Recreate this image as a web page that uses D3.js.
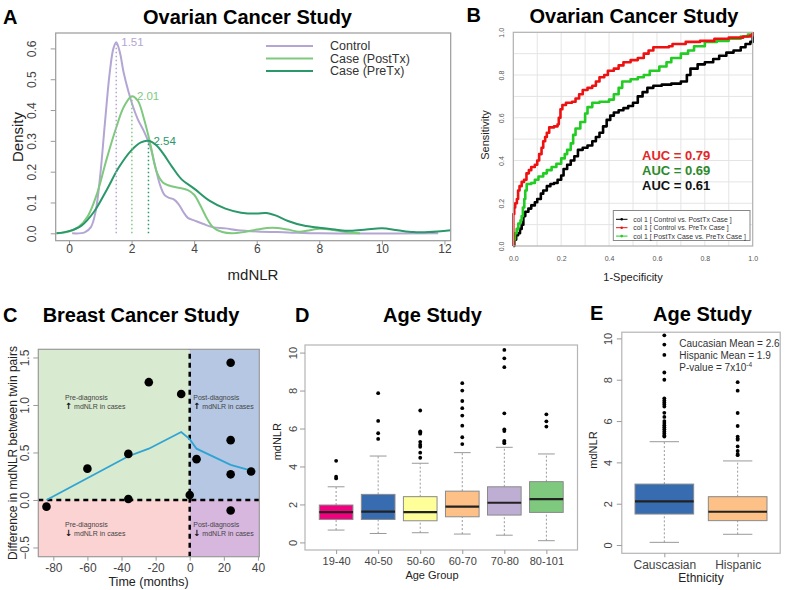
<!DOCTYPE html>
<html><head><meta charset="utf-8">
<script src="https://cdn.jsdelivr.net/npm/d3@7"></script>
<style>body{margin:0;background:#fff}svg{display:block}text{font-family:"Liberation Sans",Arial,Helvetica,sans-serif}</style>
</head><body>
<script>
// ---------------- DATA ----------------
// Panel A: density curves [mdNLR, density]
const densityControl = [[0.1,0.0],[0.5,0.003],[0.7,0.02],[0.85,0.07],[1.0,0.19],[1.15,0.36],[1.3,0.52],[1.42,0.60],[1.51,0.62],[1.62,0.59],[1.75,0.52],[1.9,0.46],[2.05,0.41],[2.2,0.37],[2.4,0.33],[2.6,0.28],[2.75,0.22],[2.9,0.16],[3.05,0.125],[3.2,0.115],[3.35,0.11],[3.5,0.095],[3.65,0.07],[3.8,0.05],[4.0,0.042],[4.3,0.03],[4.6,0.02],[5.0,0.016],[5.4,0.01],[6.0,0.006],[7.0,0.003],[8.0,0.0],[11.8,0.0]];
const densityPostTx = [[-0.4,0.0],[0.0,0.006],[0.3,0.02],[0.6,0.055],[0.9,0.13],[1.2,0.24],[1.5,0.34],[1.75,0.41],[2.01,0.445],[2.2,0.43],[2.4,0.37],[2.6,0.29],[2.8,0.2],[3.0,0.165],[3.2,0.155],[3.5,0.148],[3.8,0.14],[4.0,0.125],[4.2,0.09],[4.4,0.05],[4.6,0.02],[4.9,0.004],[5.2,0.0],[5.6,0.004],[6.0,0.012],[6.5,0.018],[7.0,0.012],[7.35,0.005],[7.7,0.01],[8.0,0.015],[8.5,0.01],[9.0,0.002],[9.3,0.0]];
const densityPreTx = [[-0.4,0.0],[0.0,0.007],[0.4,0.025],[0.8,0.07],[1.2,0.14],[1.6,0.215],[2.0,0.27],[2.3,0.295],[2.54,0.30],[2.8,0.285],[3.0,0.26],[3.3,0.215],[3.6,0.175],[4.0,0.145],[4.5,0.105],[5.0,0.08],[5.5,0.067],[6.0,0.064],[6.3,0.066],[6.6,0.058],[7.0,0.04],[7.5,0.025],[8.0,0.018],[8.5,0.012],[9.0,0.008],[9.5,0.012],[10.0,0.016],[10.5,0.01],[11.0,0.004],[11.5,0.004],[12.2,0.01]];
const densityNames = ["Control","Case (PostTx)","Case (PreTx)"];
const densityPeaks = [[1.51,0.62,"1.51"],[2.01,0.445,"2.01"],[2.54,0.30,"2.54"]];
const densityXTicks = [0,2,4,6,8,10,12];
const densityYTicks = [0,0.1,0.2,0.3,0.4,0.5,0.6];

// Panel B: ROC curves [1-specificity, sensitivity]
const rocControlPreTx = [[0,0],[0,0.15],[0.004,0.18],[0.008,0.2],[0.015,0.22],[0.02,0.26],[0.026,0.28],[0.035,0.3],[0.045,0.31],[0.055,0.34],[0.065,0.355],[0.075,0.37],[0.09,0.38],[0.1,0.40],[0.108,0.43],[0.118,0.46],[0.125,0.49],[0.133,0.51],[0.14,0.53],[0.15,0.555],[0.17,0.56],[0.185,0.57],[0.19,0.6],[0.197,0.64],[0.205,0.66],[0.22,0.67],[0.245,0.675],[0.26,0.69],[0.275,0.71],[0.29,0.73],[0.31,0.74],[0.33,0.75],[0.345,0.77],[0.36,0.79],[0.38,0.8],[0.395,0.82],[0.42,0.83],[0.44,0.845],[0.46,0.86],[0.49,0.87],[0.52,0.88],[0.545,0.9],[0.565,0.915],[0.585,0.93],[0.65,0.935],[0.665,0.945],[0.72,0.955],[0.78,0.96],[0.84,0.97],[0.9,0.975],[0.96,0.98],[0.99,0.985],[1,1]];
const rocPostPreTx = [[0,0],[0,0.03],[0.007,0.06],[0.014,0.08],[0.021,0.105],[0.03,0.12],[0.035,0.14],[0.04,0.18],[0.046,0.22],[0.05,0.26],[0.056,0.29],[0.075,0.295],[0.09,0.31],[0.105,0.325],[0.125,0.34],[0.14,0.355],[0.16,0.37],[0.18,0.385],[0.2,0.41],[0.215,0.43],[0.225,0.45],[0.24,0.48],[0.25,0.52],[0.26,0.55],[0.28,0.58],[0.3,0.62],[0.31,0.65],[0.33,0.67],[0.36,0.675],[0.4,0.685],[0.42,0.71],[0.44,0.74],[0.455,0.77],[0.49,0.78],[0.52,0.79],[0.545,0.8],[0.57,0.82],[0.61,0.84],[0.64,0.86],[0.66,0.88],[0.7,0.9],[0.73,0.915],[0.755,0.935],[0.8,0.955],[0.85,0.96],[0.9,0.97],[0.95,0.98],[0.98,0.99],[1,1]];
const rocControlPostTx = [[0,0],[0.004,0.03],[0.012,0.05],[0.02,0.06],[0.028,0.08],[0.035,0.1],[0.042,0.14],[0.05,0.16],[0.063,0.175],[0.075,0.19],[0.09,0.205],[0.1,0.22],[0.115,0.245],[0.125,0.26],[0.14,0.28],[0.155,0.29],[0.17,0.295],[0.185,0.31],[0.2,0.33],[0.21,0.36],[0.225,0.38],[0.24,0.4],[0.255,0.42],[0.27,0.45],[0.29,0.46],[0.31,0.47],[0.33,0.49],[0.345,0.51],[0.36,0.53],[0.375,0.56],[0.39,0.59],[0.405,0.61],[0.42,0.625],[0.44,0.635],[0.46,0.645],[0.48,0.655],[0.5,0.67],[0.52,0.7],[0.54,0.72],[0.56,0.74],[0.585,0.75],[0.62,0.755],[0.66,0.76],[0.7,0.77],[0.725,0.8],[0.74,0.83],[0.77,0.85],[0.8,0.86],[0.835,0.875],[0.86,0.89],[0.89,0.905],[0.92,0.915],[0.95,0.93],[0.97,0.945],[0.99,0.955],[1,0.97],[1,1]];
const rocLegend = ["col 1 [ Control vs. PostTx Case ]","col 1 [ Control vs. PreTx Case ]","col 1 [ PostTx Case vs. PreTx Case ]"];
const rocAUC = ["AUC = 0.79","AUC = 0.69","AUC = 0.61"];
const rocTicks = [0,0.2,0.4,0.6,0.8,1.0];

// Panel C: breast cancer twin differences
const twinTime = [-84,-60,-36,-36,-24,-5,0,4,24,24,24,24,36];
const twinDiff = [-0.07,0.33,0.485,0.01,1.24,1.115,0.053,0.43,1.445,0.63,0.27,-0.11,0.30];
const trendTime = [-84,-36,-24,-5,0,4,24,36];
const trendDiff = [0.0,0.46,0.54,0.715,0.64,0.54,0.37,0.31];
const twinXTicks = [-80,-60,-40,-20,0,20,40];
const twinYTicks = [-0.5,0,0.5,1.0,1.5];

// Panel D: age groups box stats
const ageGroups = ["19-40","40-50","50-60","60-70","70-80","80-101"];
const ageLow = [0.65,0.47,0.51,0.44,0.38,0.09];
const ageQ1 = [1.21,1.21,1.14,1.35,1.44,1.58];
const ageMedian = [1.6,1.62,1.6,1.88,2.09,2.28];
const ageQ3 = [1.97,2.53,2.41,2.7,2.93,3.2];
const ageHigh = [2.93,4.55,4.17,4.73,5.01,4.66];
const ageOutliers = [[3.37,3.46,4.3],[5.45,5.75,6.4,7.86],[4.46,4.73,5.04,5.15,5.3,5.73,5.8,5.85,6.95],[5.18,5.54,6.15,6.68,7.07,7.45,8.0,8.39],[5.23,5.3,5.35,5.87,5.96,6.8,9.23,9.7,10.14],[6.1,6.38,6.75]];
const ageYTicks = [0,2,4,6,8,10];

// Panel E: ethnicity box stats
const ethGroups = ["Causcasian","Hispanic"];
const ethLow = [0.13,0.52];
const ethQ1 = [1.5,1.18];
const ethMedian = [2.11,1.61];
const ethQ3 = [2.95,2.34];
const ethHigh = [5.0,4.07];
const ethOutliers = [[5.25,5.3,5.4,5.5,5.6,5.7,5.8,5.9,6.0,6.2,6.4,6.7,6.8,6.9,7.0,7.1,8.0,8.35,9.2,9.7,10.15],[4.35,4.4,4.55,4.77,5.1,5.15,5.25,5.76,6.39,7.47,7.88]];
const ethStats = ["Caucasian Mean = 2.6","Hispanic Mean = 1.9"];

// ---------------- STYLE ----------------
const densityColors = ["#b3a6d3","#7fc97f","#2a9868"];
const rocColors = ["#000000","#ee1111","#22cc22"];
const aucColors = ["#e32626","#2b8a2b","#111111"];
const accent = ["#f0027f","#386cb0","#ffff99","#fdc086","#beaed4","#7fc97f"];
const ethColors = ["#386cb0","#fdc086"];
const frameColor = "#9a9a9a";
const tickColor = "#444";

const svg = d3.select("body").append("svg").attr("width",800).attr("height",590);
svg.append("rect").attr("width",800).attr("height",590).attr("fill","#fff");

function txt(x,y,s,o){
  const t = svg.append("text").attr("x",x).attr("y",y).text(s)
    .attr("font-size",o.size||12).attr("fill",o.fill||"#000")
    .attr("text-anchor",o.anchor||"middle");
  if(o.bold) t.attr("font-weight","bold");
  if(o.rot) t.attr("transform",`rotate(-90,${x},${y})`).attr("dy","0.35em");
  return t;
}
function frame(x0,x1,y0,y1,c){
  svg.append("rect").attr("x",x0).attr("y",y0).attr("width",x1-x0).attr("height",y1-y0)
    .attr("fill","none").attr("stroke",c||frameColor).attr("stroke-width",1.2);
}
function bottomAxis(scale,vals,y,o){
  const ax = d3.axisBottom(scale).tickValues(vals).tickSize(o.tick).tickFormat(o.fmt||(d=>d));
  const g = svg.append("g").attr("transform",`translate(0,${y})`).call(ax);
  g.select(".domain").remove();
  g.selectAll("line").attr("stroke",o.tickStroke||frameColor);
  g.selectAll("text").attr("y",o.base).attr("dy",0).attr("font-size",o.size).attr("fill",o.fill||tickColor)
    .attr("font-family",'"Liberation Sans",Arial,sans-serif');
  return g;
}
function leftAxis(scale,vals,x,o){
  const ax = d3.axisLeft(scale).tickValues(vals).tickSize(o.tick).tickFormat(o.fmt||(d=>d));
  const g = svg.append("g").attr("transform",`translate(${x},0)`).call(ax);
  g.select(".domain").remove();
  g.selectAll("line").attr("stroke",o.tickStroke||frameColor);
  g.selectAll("text").attr("x",0).attr("y",-o.off).attr("dy","0.35em").attr("text-anchor","middle")
    .attr("transform","rotate(-90)").attr("font-size",o.size).attr("fill",o.fill||tickColor)
    .attr("font-family",'"Liberation Sans",Arial,sans-serif');
  return g;
}

// ---------------- PANEL A ----------------
{
  const x = d3.scaleLinear([-0.425,12.2],[55.7,450.7]);
  const y = d3.scaleLinear([-0.024,0.65],[240.7,33]);
  const line = d3.line().x(d=>x(d[0])).y(d=>y(d[1])).curve(d3.curveCatmullRom.alpha(0.5));
  const clip = svg.append("clipPath").attr("id","clipA");
  clip.append("rect").attr("x",55.7).attr("y",33).attr("width",395).attr("height",207.7);
  const g = svg.append("g").attr("clip-path","url(#clipA)");
  [densityControl,densityPostTx,densityPreTx].forEach((d,i)=>{
    g.append("path").attr("d",line(d)).attr("fill","none").attr("stroke",densityColors[i]).attr("stroke-width",2);
  });
  densityPeaks.forEach((p,i)=>{
    g.append("line").attr("x1",x(p[0])).attr("x2",x(p[0])).attr("y1",y(0)).attr("y2",y(p[1]))
      .attr("stroke",densityColors[i]).attr("stroke-width",1.5).attr("stroke-dasharray","1.5,2.5");
    txt(x(p[0])+5,y(p[1]),p[2],{size:11.5,fill:densityColors[i],anchor:"start"}).attr("dy","0.35em");
  });
  frame(55.7,450.7,33,240.7);
  bottomAxis(x,densityXTicks,240.7,{tick:4,base:12.5,size:12});
  leftAxis(y,densityYTicks,55.7,{tick:5,off:24,size:12,fmt:d3.format(".1f")});
  densityNames.forEach((n,i)=>{
    const yy = 46+i*12.5;
    svg.append("line").attr("x1",266).attr("x2",313).attr("y1",yy).attr("y2",yy)
      .attr("stroke",densityColors[i]).attr("stroke-width",2);
    txt(330,yy,n,{size:12.5,fill:"#333",anchor:"start"}).attr("dy","0.35em");
  });
  txt(3,24,"A",{size:20,bold:true,anchor:"start"});
  txt(247.5,24,"Ovarian Cancer Study",{size:20,bold:true});
  txt(18,137,"Density",{size:15,rot:true,fill:"#222"});
  txt(253,280,"mdNLR",{size:15,fill:"#222"});
}

// ---------------- PANEL B ----------------
{
  const x = d3.scaleLinear([0,1],[513.3,752.7]);
  const y = d3.scaleLinear([0,1],[246,32.3]);
  const grid = d3.range(1,10).map(i=>i/10);
  grid.forEach(v=>{
    svg.append("line").attr("x1",x(v)).attr("x2",x(v)).attr("y1",y(0)).attr("y2",y(1)).attr("stroke","#e4e4e4").attr("stroke-width",1);
    svg.append("line").attr("y1",y(v)).attr("y2",y(v)).attr("x1",x(0)).attr("x2",x(1)).attr("stroke","#e4e4e4").attr("stroke-width",1);
  });
  const line = d3.line().x(d=>x(d[0])).y(d=>y(d[1])).curve(d3.curveStepAfter);
  [rocControlPostTx,rocPostPreTx,rocControlPreTx].forEach((d)=>{
    const c = d===rocControlPostTx?rocColors[0]:d===rocControlPreTx?rocColors[1]:rocColors[2];
    svg.append("path").attr("d",line(d)).attr("fill","none").attr("stroke",c).attr("stroke-width",2.6).attr("stroke-linejoin","round");
  });
  frame(513.3,752.7,32.3,246,"#b0b0b0");
  bottomAxis(x,rocTicks,246,{tick:0,base:15,size:7,fill:"#555",fmt:d3.format(".1f")});
  leftAxis(y,rocTicks,513.3,{tick:0,off:11.6,size:7,fill:"#555",fmt:d3.format(".1f")});
  rocAUC.forEach((s,i)=>txt(642,155+i*15,s,{size:13,bold:true,fill:aucColors[i],anchor:"start"}).attr("dy","0.35em"));
  svg.append("rect").attr("x",613.3).attr("y",210.5).attr("width",136.7).attr("height",30).attr("fill","#fff").attr("stroke","#888").attr("stroke-width",1);
  rocLegend.forEach((s,i)=>{
    const yy = 219.3+i*8.4;
    svg.append("line").attr("x1",616).attr("x2",627.5).attr("y1",yy).attr("y2",yy).attr("stroke",rocColors[i]).attr("stroke-width",1);
    svg.append("circle").attr("cx",621.7).attr("cy",yy).attr("r",1.3).attr("fill",rocColors[i]);
    txt(633.3,yy,s,{size:6.9,fill:"#333",anchor:"start"}).attr("dy","0.35em");
  });
  txt(466.5,22,"B",{size:20,bold:true,anchor:"start"});
  txt(634,23,"Ovarian Cancer Study",{size:20,bold:true});
  txt(485,135,"Sensitivity",{size:11,rot:true,fill:"#222"});
  txt(633,280.5,"1-Specificity",{size:11,fill:"#222"});
}

// ---------------- PANEL C ----------------
{
  const x = d3.scaleLinear([-88.8,40.8],[38.3,259.3]);
  const y = d3.scaleLinear([-0.597,1.586],[556.7,349.3]);
  const regions = [
    [-88.8,0,0,1.586,"#d8eacf"],
    [0,40.8,0,1.586,"#b5c7e3"],
    [-88.8,0,-0.597,0,"#fcd3d3"],
    [0,40.8,-0.597,0,"#d8b7df"]
  ];
  regions.forEach(r=>svg.append("rect").attr("x",x(r[0])).attr("y",y(r[3])).attr("width",x(r[1])-x(r[0])).attr("height",y(r[2])-y(r[3])).attr("fill",r[4]));
  svg.append("line").attr("x1",x(-88.8)).attr("x2",x(40.8)).attr("y1",y(0)).attr("y2",y(0)).attr("stroke","#000").attr("stroke-width",2.5).attr("stroke-dasharray","5,4");
  svg.append("line").attr("x1",x(0)).attr("x2",x(0)).attr("y1",y(-0.597)).attr("y2",y(1.586)).attr("stroke","#000").attr("stroke-width",2.5).attr("stroke-dasharray","5,4");
  const line = d3.line().x((d,i)=>x(trendTime[i])).y((d,i)=>y(trendDiff[i]));
  svg.append("path").attr("d",line(trendTime)).attr("fill","none").attr("stroke","#2fa3d3").attr("stroke-width",1.8);
  twinTime.forEach((t,i)=>svg.append("circle").attr("cx",x(t)).attr("cy",y(twinDiff[i])).attr("r",4.3).attr("fill","#000"));
  const notes = [[65,400,"Pre-diagnosis","↑"," mdNLR in cases"],[193.3,400,"Post-diagnosis","↑"," mdNLR in cases"],
                 [65,526.7,"Pre-diagnosis","↓"," mdNLR in cases"],[193.3,526.7,"Post-diagnosis","↓"," mdNLR in cases"]];
  notes.forEach(n=>{
    txt(n[0],n[1],n[2],{size:7,fill:"#444",anchor:"start"});
    const t = txt(n[0],n[1]+9,"",{size:7,fill:"#444",anchor:"start"});
    t.append("tspan").attr("font-weight","bold").attr("font-size",8.5).attr("font-family","DejaVu Sans").attr("fill","#111").text(n[3]);
    t.append("tspan").text(n[4]);
  });
  frame(38.3,259.3,349.3,556.7);
  bottomAxis(x,twinXTicks,556.7,{tick:4,base:15,size:12});
  leftAxis(y,twinYTicks,38.3,{tick:5,off:13.5,size:12,fmt:d3.format(".1f")});
  txt(3,322,"C",{size:20,bold:true,anchor:"start"});
  txt(141,322,"Breast Cancer Study",{size:20,bold:true});
  txt(13,453,"Difference in mdNLR between twin pairs",{size:12,rot:true,fill:"#222"});
  txt(148.5,586,"Time (months)",{size:12.5,fill:"#222"});
}

// ---------------- BOX PLOTS ----------------
function boxplot(x,y,n,low,q1,med,q3,high,outs,colors){
  for(let i=0;i<n;i++){
    const c = i+1, hw = 0.4, cw = 0.2;
    const w = (a,b)=>svg.append("line").attr("x1",x(c)).attr("x2",x(c)).attr("y1",y(a)).attr("y2",y(b))
      .attr("stroke","#999").attr("stroke-width",1).attr("stroke-dasharray","2,2");
    w(q3[i],high[i]); w(low[i],q1[i]);
    [low[i],high[i]].forEach(v=>svg.append("line").attr("x1",x(c-cw)).attr("x2",x(c+cw)).attr("y1",y(v)).attr("y2",y(v)).attr("stroke","#999").attr("stroke-width",1));
    svg.append("rect").attr("x",x(c-hw)).attr("y",y(q3[i])).attr("width",x(c+hw)-x(c-hw)).attr("height",y(q1[i])-y(q3[i]))
      .attr("fill",colors[i]).attr("stroke","#8a8a8a").attr("stroke-width",1);
    svg.append("line").attr("x1",x(c-hw)).attr("x2",x(c+hw)).attr("y1",y(med[i])).attr("y2",y(med[i])).attr("stroke","#222").attr("stroke-width",2.2);
    outs[i].forEach(v=>svg.append("circle").attr("cx",x(c)).attr("cy",y(v)).attr("r",1.9).attr("fill","#000"));
  }
}

// ---------------- PANEL D ----------------
{
  const x = d3.scaleLinear([0.26,6.74],[305,577.5]);
  const y = d3.scaleLinear([-0.4,10.4],[550,345]);
  boxplot(x,y,6,ageLow,ageQ1,ageMedian,ageQ3,ageHigh,ageOutliers,accent);
  frame(305,577.5,345,550,"#b5b5b5");
  bottomAxis(x,d3.range(1,7),550,{tick:4,base:14.5,size:11,fmt:d=>ageGroups[d-1]});
  leftAxis(y,ageYTicks,305,{tick:5,off:12.3,size:11});
  txt(295,322,"D",{size:20,bold:true,anchor:"start"});
  txt(432.5,322,"Age Study",{size:20,bold:true});
  txt(276.7,441.7,"mdNLR",{size:11,rot:true,fill:"#222"});
  txt(432,579,"Age Group",{size:11,fill:"#222"});
}

// ---------------- PANEL E ----------------
{
  const x = d3.scaleLinear([0.42,2.58],[621.8,780.2]);
  const y = d3.scaleLinear([-0.4,10.3],[553.3,332.2]);
  boxplot(x,y,2,ethLow,ethQ1,ethMedian,ethQ3,ethHigh,ethOutliers,ethColors);
  frame(621.8,780.2,332.2,553.3,"#b5b5b5");
  bottomAxis(x,[1,2],553.3,{tick:4,base:15.5,size:12,fmt:d=>ethGroups[d-1]});
  leftAxis(y,ageYTicks,621.8,{tick:5,off:13.5,size:11});
  ethStats.forEach((s,i)=>txt(679.3,343.3+i*11.8,s,{size:10,fill:"#333",anchor:"start"}).attr("dy","0.35em"));
  const p = txt(679.3,367,"P-value = 7x10",{size:10,fill:"#333",anchor:"start"}).attr("dy","0.35em");
  p.append("tspan").attr("font-size",6.5).attr("dy","-0.6em").text("-4");
  txt(590,320,"E",{size:20,bold:true,anchor:"start"});
  txt(702.5,321,"Age Study",{size:20,bold:true});
  txt(593.3,450,"mdNLR",{size:11,rot:true,fill:"#222"});
  txt(701,582,"Ethnicity",{size:12,fill:"#222"});
}
</script>
</body></html>
